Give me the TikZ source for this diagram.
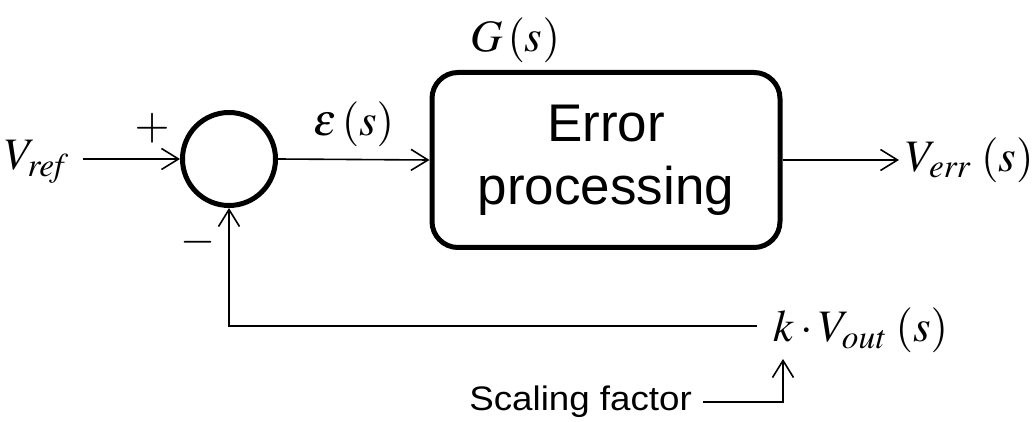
\documentclass[tikz,border=0pt]{standalone}
\usepackage{mathptmx}
\usepackage{fontspec}
\setmainfont{Liberation Serif}
\newfontfamily\labelfont{Liberation Sans}
\newfontfamily\widelabelfont[FakeStretch=1.08]{Liberation Sans}
\usepackage{tikz}
\usetikzlibrary{arrows.meta}

\begin{document}
\begin{tikzpicture}[x=1pt, y=-1pt,
    wire/.style={line width=1.6pt, -{Straight Barb[length=17pt,width=21pt,line width=1.6pt]}},
    mathtxt/.style={font=\fontsize{45}{50}\selectfont, inner sep=0pt},
    sanstxt/.style={font=\widelabelfont\fontsize{34}{38}\selectfont, inner sep=0pt}]
    \useasboundingbox (0,0) rectangle (1034,422);

    \node[mathtxt, anchor=east] (Vref) at (69,162) {$V_{\mathit{ref}}$};
    \node[circle, draw, line width=5pt, minimum size=93pt] (Sum) at (229,159) {};
    \node[draw, line width=5pt, rounded corners=26pt, minimum width=348pt, minimum height=175pt,
        align=center, font=\labelfont\fontsize{53}{63}\selectfont] (Box) at (606,160) {Error\\processing};
    \node[mathtxt, anchor=west] (Verr) at (906,160) {$V_{\mathit{err}}\,\left(s\right)$};
    \node[mathtxt] (G) at (515,40) {$G\left(s\right)$};
    \node[mathtxt, anchor=west] (Kout) at (773,330) {$k\cdot V_{\mathit{out}}\,\left(s\right)$};
    \node[sanstxt, anchor=east] (Scale) at (692,402) {Scaling factor};
    \coordinate (Ktip) at (783,359);

    \node[mathtxt] (Plus) at (152,128) {$+$};
    \node[mathtxt] (Minus) at (198,242) {$-$};

    \draw[wire] ([xshift=14pt]Vref.east |- Sum) -- (Sum.west);
    \draw[wire] (Sum.east) -- (Box.west) node[midway, above=12pt, mathtxt] (Eps) {$\varepsilon\left(s\right)$};
    \draw[wire] (Box.east) -- ([xshift=-7pt]Verr.west);
    \draw[wire] ([xshift=-16pt]Kout.west |- 0,326) -| (Sum.south);
    \draw[wire] ([xshift=11pt]Scale.east) -| (Ktip);
\end{tikzpicture}
\end{document}
